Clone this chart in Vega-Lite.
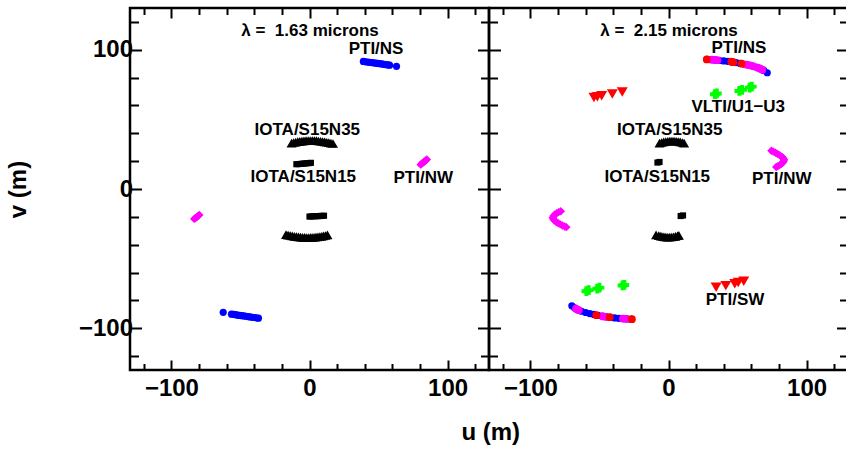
{
  "$schema": "https://vega.github.io/schema/vega-lite/v6.json",
  "padding": 5,
  "background": "white",
  "spacing": 0,
  "bounds": "flush",
  "config": {
    "view": {"stroke": "black", "strokeWidth": 2.5},
    "font": "Liberation Sans",
    "concat": {"spacing": 0}
  },
  "title": {"text": "u (m)", "orient": "bottom", "anchor": "middle", "dx": 63, "fontSize": 24, "fontWeight": "bold", "font": "Liberation Sans", "color": "black", "offset": 16},
  "datasets": {
    "pts": [
      {"p":"1.63","s":"NSb","u":39,"v":91.6},{"p":"1.63","s":"NSb","u":40.5,"v":91.4},{"p":"1.63","s":"NSb","u":42,"v":91.2},{"p":"1.63","s":"NSb","u":43.5,"v":91.0},{"p":"1.63","s":"NSb","u":45,"v":90.8},{"p":"1.63","s":"NSb","u":46.5,"v":90.6},{"p":"1.63","s":"NSb","u":48,"v":90.4},{"p":"1.63","s":"NSb","u":49.5,"v":90.2},{"p":"1.63","s":"NSb","u":51,"v":90.0},{"p":"1.63","s":"NSb","u":52.5,"v":89.8},{"p":"1.63","s":"NSb","u":54,"v":89.5},{"p":"1.63","s":"NSb","u":55.5,"v":89.3},{"p":"1.63","s":"NSb","u":57,"v":89.1},{"p":"1.63","s":"NSb","u":58,"v":88.9},{"p":"1.63","s":"NSb","u":63,"v":88.1},
      {"p":"1.63","s":"NSb","u":-62.5,"v":-88.6},{"p":"1.63","s":"NSb","u":-56.5,"v":-89.9},{"p":"1.63","s":"NSb","u":-55,"v":-90.1},{"p":"1.63","s":"NSb","u":-53.5,"v":-90.3},{"p":"1.63","s":"NSb","u":-52,"v":-90.6},{"p":"1.63","s":"NSb","u":-50.5,"v":-90.8},{"p":"1.63","s":"NSb","u":-49,"v":-91.0},{"p":"1.63","s":"NSb","u":-47.5,"v":-91.2},{"p":"1.63","s":"NSb","u":-46,"v":-91.4},{"p":"1.63","s":"NSb","u":-44.5,"v":-91.6},{"p":"1.63","s":"NSb","u":-43,"v":-91.9},{"p":"1.63","s":"NSb","u":-41.5,"v":-92.1},{"p":"1.63","s":"NSb","u":-40,"v":-92.3},{"p":"1.63","s":"NSb","u":-38.5,"v":-92.5},{"p":"1.63","s":"NSb","u":-37,"v":-92.8},
      {"p":"1.63","s":"NW","u":80.5,"v":17.5},{"p":"1.63","s":"NW","u":81.2,"v":18.1},{"p":"1.63","s":"NW","u":82,"v":18.8},{"p":"1.63","s":"NW","u":82.8,"v":19.4},{"p":"1.63","s":"NW","u":83.5,"v":20},{"p":"1.63","s":"NW","u":84.3,"v":20.6},{"p":"1.63","s":"NW","u":85,"v":21.2},
      {"p":"1.63","s":"NW","u":-83.5,"v":-21.5},{"p":"1.63","s":"NW","u":-82.8,"v":-21},{"p":"1.63","s":"NW","u":-82,"v":-20.4},{"p":"1.63","s":"NW","u":-81.2,"v":-19.8},{"p":"1.63","s":"NW","u":-80.5,"v":-19.2},{"p":"1.63","s":"NW","u":-79.8,"v":-18.6},
      {"p":"1.63","s":"N35","u":-13,"v":33.0},{"p":"1.63","s":"N35","u":-11.5,"v":33.4},{"p":"1.63","s":"N35","u":-10,"v":33.7},{"p":"1.63","s":"N35","u":-8.5,"v":34.0},{"p":"1.63","s":"N35","u":-7,"v":34.2},{"p":"1.63","s":"N35","u":-5.5,"v":34.4},{"p":"1.63","s":"N35","u":-4,"v":34.6},{"p":"1.63","s":"N35","u":-2.5,"v":34.7},{"p":"1.63","s":"N35","u":-1,"v":34.8},{"p":"1.63","s":"N35","u":0.5,"v":34.8},{"p":"1.63","s":"N35","u":2,"v":34.8},{"p":"1.63","s":"N35","u":3.5,"v":34.7},{"p":"1.63","s":"N35","u":5,"v":34.7},{"p":"1.63","s":"N35","u":6.5,"v":34.5},{"p":"1.63","s":"N35","u":8,"v":34.3},{"p":"1.63","s":"N35","u":9.5,"v":34.1},{"p":"1.63","s":"N35","u":11,"v":33.9},{"p":"1.63","s":"N35","u":12.5,"v":33.6},{"p":"1.63","s":"N35","u":14,"v":33.3},{"p":"1.63","s":"N35","u":15.5,"v":33.0},{"p":"1.63","s":"N35","u":17,"v":32.7},
      {"p":"1.63","s":"N35","u":-17,"v":-32.8},{"p":"1.63","s":"N35","u":-15.5,"v":-33.1},{"p":"1.63","s":"N35","u":-14,"v":-33.4},{"p":"1.63","s":"N35","u":-12.5,"v":-33.7},{"p":"1.63","s":"N35","u":-11,"v":-34.0},{"p":"1.63","s":"N35","u":-9.5,"v":-34.2},{"p":"1.63","s":"N35","u":-8,"v":-34.4},{"p":"1.63","s":"N35","u":-6.5,"v":-34.6},{"p":"1.63","s":"N35","u":-5,"v":-34.7},{"p":"1.63","s":"N35","u":-3.5,"v":-34.8},{"p":"1.63","s":"N35","u":-2,"v":-34.9},{"p":"1.63","s":"N35","u":-0.5,"v":-34.9},{"p":"1.63","s":"N35","u":1,"v":-34.8},{"p":"1.63","s":"N35","u":2.5,"v":-34.7},{"p":"1.63","s":"N35","u":4,"v":-34.6},{"p":"1.63","s":"N35","u":5.5,"v":-34.4},{"p":"1.63","s":"N35","u":7,"v":-34.2},{"p":"1.63","s":"N35","u":8.5,"v":-34.0},{"p":"1.63","s":"N35","u":10,"v":-33.7},{"p":"1.63","s":"N35","u":11.5,"v":-33.4},{"p":"1.63","s":"N35","u":13,"v":-33.0},
      {"p":"1.63","s":"N15","u":-9.5,"v":17.8},{"p":"1.63","s":"N15","u":-8,"v":17.9},{"p":"1.63","s":"N15","u":-6.5,"v":18.0},{"p":"1.63","s":"N15","u":-5,"v":18.2},{"p":"1.63","s":"N15","u":-3.5,"v":18.3},{"p":"1.63","s":"N15","u":-2,"v":18.5},{"p":"1.63","s":"N15","u":-0.5,"v":18.6},{"p":"1.63","s":"N15","u":1,"v":18.8},
      {"p":"1.63","s":"N15","u":0,"v":-19.8},{"p":"1.63","s":"N15","u":1.5,"v":-19.7},{"p":"1.63","s":"N15","u":3,"v":-19.6},{"p":"1.63","s":"N15","u":4.5,"v":-19.5},{"p":"1.63","s":"N15","u":6,"v":-19.5},{"p":"1.63","s":"N15","u":7.5,"v":-19.4},{"p":"1.63","s":"N15","u":9,"v":-19.3},{"p":"1.63","s":"N15","u":10.5,"v":-19.2},

      {"p":"2.15","s":"NSb","u":28,"v":93.1},{"p":"2.15","s":"NSb","u":31,"v":92.9},{"p":"2.15","s":"NSb","u":34,"v":92.6},{"p":"2.15","s":"NSb","u":37,"v":92.3},{"p":"2.15","s":"NSb","u":40,"v":92.0},{"p":"2.15","s":"NSb","u":43,"v":91.7},{"p":"2.15","s":"NSb","u":46,"v":91.3},{"p":"2.15","s":"NSb","u":49,"v":90.8},{"p":"2.15","s":"NSb","u":52,"v":90.2},{"p":"2.15","s":"NSb","u":55,"v":89.6},{"p":"2.15","s":"NSb","u":58,"v":89.0},{"p":"2.15","s":"NSb","u":61,"v":88.3},{"p":"2.15","s":"NSb","u":64,"v":87.4},{"p":"2.15","s":"NSb","u":67,"v":86.2},{"p":"2.15","s":"NSb","u":69,"v":85.2},{"p":"2.15","s":"NSb","u":71.5,"v":83.5},
      {"p":"2.15","s":"NSb","u":-70,"v":-83.9},{"p":"2.15","s":"NSb","u":-68,"v":-85.3},{"p":"2.15","s":"NSb","u":-66,"v":-86.6},{"p":"2.15","s":"NSb","u":-63,"v":-87.8},{"p":"2.15","s":"NSb","u":-60,"v":-88.7},{"p":"2.15","s":"NSb","u":-57,"v":-89.5},{"p":"2.15","s":"NSb","u":-54,"v":-90.1},{"p":"2.15","s":"NSb","u":-51,"v":-90.7},{"p":"2.15","s":"NSb","u":-48,"v":-91.3},{"p":"2.15","s":"NSb","u":-45,"v":-91.8},{"p":"2.15","s":"NSb","u":-42,"v":-92.2},{"p":"2.15","s":"NSb","u":-39,"v":-92.6},{"p":"2.15","s":"NSb","u":-36,"v":-92.9},{"p":"2.15","s":"NSb","u":-33,"v":-93.1},{"p":"2.15","s":"NSb","u":-30,"v":-93.3},{"p":"2.15","s":"NSb","u":-27,"v":-93.5},
      {"p":"2.15","s":"NSm","u":31.5,"v":92.9},{"p":"2.15","s":"NSm","u":33.5,"v":92.7},{"p":"2.15","s":"NSm","u":35.5,"v":92.5},{"p":"2.15","s":"NSm","u":56.5,"v":89.3},{"p":"2.15","s":"NSm","u":59,"v":88.8},{"p":"2.15","s":"NSm","u":61.5,"v":88.1},{"p":"2.15","s":"NSm","u":64.5,"v":87.2},{"p":"2.15","s":"NSm","u":66,"v":86.6},{"p":"2.15","s":"NSm","u":68,"v":85.7},
      {"p":"2.15","s":"NSm","u":-67,"v":-86},{"p":"2.15","s":"NSm","u":-65,"v":-87},{"p":"2.15","s":"NSm","u":-47.5,"v":-91.5},{"p":"2.15","s":"NSm","u":-45.5,"v":-91.8},{"p":"2.15","s":"NSm","u":-33,"v":-93.1},{"p":"2.15","s":"NSm","u":-31,"v":-93.2},
      {"p":"2.15","s":"NSr","u":27.7,"v":93.1},{"p":"2.15","s":"NSr","u":45.5,"v":91.4},{"p":"2.15","s":"NSr","u":47,"v":91.1},{"p":"2.15","s":"NSr","u":53,"v":90.0},
      {"p":"2.15","s":"NSr","u":-52.3,"v":-90.6},{"p":"2.15","s":"NSr","u":-42.6,"v":-92.1},{"p":"2.15","s":"NSr","u":-26.5,"v":-93.5},
      {"p":"2.15","s":"NW","u":74.5,"v":27.5},{"p":"2.15","s":"NW","u":76,"v":26.8},{"p":"2.15","s":"NW","u":77.5,"v":26},{"p":"2.15","s":"NW","u":79,"v":25.2},{"p":"2.15","s":"NW","u":80.5,"v":24.3},{"p":"2.15","s":"NW","u":82,"v":23.3},{"p":"2.15","s":"NW","u":83,"v":22.3},{"p":"2.15","s":"NW","u":83.7,"v":21.2},{"p":"2.15","s":"NW","u":83.5,"v":20.1},{"p":"2.15","s":"NW","u":82.8,"v":19},{"p":"2.15","s":"NW","u":81.8,"v":18},{"p":"2.15","s":"NW","u":80.5,"v":17.1},{"p":"2.15","s":"NW","u":79.2,"v":16.4},{"p":"2.15","s":"NW","u":78,"v":15.8},
      {"p":"2.15","s":"NW","u":-78,"v":-16},{"p":"2.15","s":"NW","u":-79.5,"v":-16.6},{"p":"2.15","s":"NW","u":-81,"v":-17.4},{"p":"2.15","s":"NW","u":-82.3,"v":-18.3},{"p":"2.15","s":"NW","u":-83.3,"v":-19.4},{"p":"2.15","s":"NW","u":-83.8,"v":-20.5},{"p":"2.15","s":"NW","u":-83.5,"v":-21.6},{"p":"2.15","s":"NW","u":-82.6,"v":-22.7},{"p":"2.15","s":"NW","u":-81.3,"v":-23.7},{"p":"2.15","s":"NW","u":-79.8,"v":-24.6},{"p":"2.15","s":"NW","u":-78.3,"v":-25.4},{"p":"2.15","s":"NW","u":-76.8,"v":-26.2},{"p":"2.15","s":"NW","u":-75.2,"v":-26.9},{"p":"2.15","s":"NW","u":-74,"v":-27.4},
      {"p":"2.15","s":"SW","u":-54,"v":65.8},{"p":"2.15","s":"SW","u":-51.5,"v":66.3},{"p":"2.15","s":"SW","u":-48.4,"v":67},{"p":"2.15","s":"SW","u":-40.7,"v":68.3},{"p":"2.15","s":"SW","u":-33.5,"v":69.6},
      {"p":"2.15","s":"SW","u":34.5,"v":-70.5},{"p":"2.15","s":"SW","u":41.5,"v":-69.4},{"p":"2.15","s":"SW","u":48,"v":-68},{"p":"2.15","s":"SW","u":50.5,"v":-67.2},{"p":"2.15","s":"SW","u":54.5,"v":-66.3},
      {"p":"2.15","s":"VL","u":33.6,"v":68.1},{"p":"2.15","s":"VL","u":35,"v":68.6},{"p":"2.15","s":"VL","u":51.3,"v":70.4},{"p":"2.15","s":"VL","u":53.3,"v":71.2},{"p":"2.15","s":"VL","u":58.8,"v":72.8},{"p":"2.15","s":"VL","u":60.3,"v":73.5},
      {"p":"2.15","s":"VL","u":-59.5,"v":-73.4},{"p":"2.15","s":"VL","u":-57.8,"v":-72.6},{"p":"2.15","s":"VL","u":-51.6,"v":-71.6},{"p":"2.15","s":"VL","u":-50,"v":-70.8},{"p":"2.15","s":"VL","u":-33.3,"v":-69.3},{"p":"2.15","s":"VL","u":-32,"v":-68.9},
      {"p":"2.15","s":"N35","u":-6.5,"v":33},{"p":"2.15","s":"N35","u":-5,"v":33.4},{"p":"2.15","s":"N35","u":-3.5,"v":33.8},{"p":"2.15","s":"N35","u":-2,"v":34.1},{"p":"2.15","s":"N35","u":-0.5,"v":34.3},{"p":"2.15","s":"N35","u":1,"v":34.5},{"p":"2.15","s":"N35","u":2.5,"v":34.5},{"p":"2.15","s":"N35","u":4,"v":34.5},{"p":"2.15","s":"N35","u":5.5,"v":34.3},{"p":"2.15","s":"N35","u":7,"v":34.1},{"p":"2.15","s":"N35","u":8.5,"v":33.8},{"p":"2.15","s":"N35","u":10,"v":33.4},{"p":"2.15","s":"N35","u":11.3,"v":33},
      {"p":"2.15","s":"N35","u":-9,"v":-33},{"p":"2.15","s":"N35","u":-7,"v":-33.5},{"p":"2.15","s":"N35","u":-5.5,"v":-33.9},{"p":"2.15","s":"N35","u":-4,"v":-34.2},{"p":"2.15","s":"N35","u":-2.5,"v":-34.4},{"p":"2.15","s":"N35","u":-1,"v":-34.6},{"p":"2.15","s":"N35","u":0.5,"v":-34.6},{"p":"2.15","s":"N35","u":2,"v":-34.5},{"p":"2.15","s":"N35","u":3.5,"v":-34.3},{"p":"2.15","s":"N35","u":5,"v":-34},{"p":"2.15","s":"N35","u":6.5,"v":-33.6},{"p":"2.15","s":"N35","u":7.5,"v":-33.3},
      {"p":"2.15","s":"N15","u":-8,"v":19},{"p":"2.15","s":"N15","u":-6.5,"v":19.4},
      {"p":"2.15","s":"N15","u":8.8,"v":-19.4},{"p":"2.15","s":"N15","u":10.5,"v":-19}
    ],
    "lab": [
      {"p":"1.63","t":"λ = \u00a01.63 microns","u":0.4,"v":113.2},
      {"p":"1.63","t":"PTI/NS","u":48.2,"v":100.7},
      {"p":"1.63","t":"IOTA/S15N35","u":-1.6,"v":42.7},
      {"p":"1.63","t":"IOTA/S15N15","u":-4.5,"v":8.4},
      {"p":"1.63","t":"PTI/NW","u":82.4,"v":7.7},
      {"p":"2.15","t":"λ = \u00a02.15 microns","u":0.4,"v":113.2},
      {"p":"2.15","t":"PTI/NS","u":51,"v":101.4},
      {"p":"2.15","t":"VLTI/U1−U3","u":50.5,"v":58.8},
      {"p":"2.15","t":"IOTA/S15N35","u":0.9,"v":42.7},
      {"p":"2.15","t":"IOTA/S15N15","u":-8.1,"v":8.4},
      {"p":"2.15","t":"PTI/NW","u":82,"v":7.2},
      {"p":"2.15","t":"PTI/SW","u":48.2,"v":-79.6}
    ]
  },
  "hconcat": [
    {
      "width": 359, "height": 362,
      "layer": [
        {
          "data": {"name": "pts"},
          "transform": [{"filter": "datum.p === '1.63'"}],
          "mark": {"type": "point", "filled": true, "opacity": 1},
          "encoding": {
            "x": {"field": "u", "type": "quantitative", "scale": {"domain": [-130, 130], "nice": false, "zero": false},
              "axis": {"orient": "bottom", "values": [-120,-100,-80,-60,-40,-20,0,20,40,60,80,100,120], "labelExpr": "datum.value % 100 === 0 ? datum.label : ''", "tickSize": {"condition": {"test": "datum.value % 100 === 0", "value": -10}, "value": -6.5}, "tickWidth": 2, "tickColor": "black", "domain": false, "grid": false, "title": null, "labelFont": "Liberation Sans", "labelFontSize": 24, "labelFontWeight": "bold", "labelColor": "black", "labelPadding": 16, "labelFlush": false, "labelOverlap": false}},
            "y": {"field": "v", "type": "quantitative", "scale": {"domain": [-130, 130], "nice": false, "zero": false},
              "axis": {"orient": "left", "values": [-120,-100,-80,-60,-40,-20,0,20,40,60,80,100,120], "labelExpr": "datum.value % 100 === 0 ? datum.label : ''", "tickSize": {"condition": {"test": "datum.value % 100 === 0", "value": -11.5}, "value": -8.5}, "tickWidth": 2, "tickColor": "black", "domain": false, "grid": false, "title": "v (m)", "titleFont": "Liberation Sans", "titleFontSize": 24, "titleFontWeight": "bold", "titleColor": "black", "titlePadding": 48, "labelFont": "Liberation Sans", "labelFontSize": 24, "labelFontWeight": "bold", "labelColor": "black", "labelPadding": 9, "labelFlush": false, "labelOverlap": false}},
            "color": {"field": "s", "type": "nominal", "legend": null, "scale": {"domain": ["NSb","NSm","NSr","NW","SW","VL","N35","N15"], "range": ["#0000ff","#ff00ff","#ff0000","#ff00ff","#ff0000","#00ff00","#000000","#000000"]}},
            "shape": {"field": "s", "type": "nominal", "legend": null, "scale": {"domain": ["NSb","NSm","NSr","NW","SW","VL","N35","N15"], "range": ["circle","circle","circle","diamond","triangle-down","cross","triangle-up","square"]}},
            "size": {"field": "s", "type": "nominal", "legend": null, "scale": {"type": "ordinal", "domain": ["NSb","NSm","NSr","NW","SW","VL","N35","N15"], "range": [52,60,60,70,120,95,100,38]}}
          }
        },
        {
          "data": {"name": "lab"},
          "transform": [{"filter": "datum.p === '1.63'"}],
          "mark": {"type": "text", "font": "Liberation Sans", "fontSize": 17, "fontWeight": "bold", "color": "black", "align": "center", "baseline": "middle"},
          "encoding": {
            "x": {"field": "u", "type": "quantitative", "scale": {"domain": [-130, 130], "nice": false, "zero": false},
              "axis": {"orient": "top", "values": [-120,-100,-80,-60,-40,-20,0,20,40,60,80,100,120], "labels": false, "tickSize": {"condition": {"test": "datum.value % 100 === 0", "value": -10}, "value": -6.5}, "tickWidth": 2, "tickColor": "black", "domain": false, "grid": false, "title": null}},
            "y": {"field": "v", "type": "quantitative", "scale": {"domain": [-130, 130], "nice": false, "zero": false},
              "axis": {"orient": "right", "values": [-120,-100,-80,-60,-40,-20,0,20,40,60,80,100,120], "labels": false, "tickSize": {"condition": {"test": "datum.value % 100 === 0", "value": -11.5}, "value": -8.5}, "tickWidth": 2, "tickColor": "black", "domain": false, "grid": false, "title": null}},
            "text": {"field": "t", "type": "nominal"}
          }
        }
      ],
      "resolve": {"axis": {"x": "independent", "y": "independent"}}
    },
    {
      "width": 359, "height": 362,
      "layer": [
        {
          "data": {"name": "pts"},
          "transform": [{"filter": "datum.p === '2.15'"}],
          "mark": {"type": "point", "filled": true, "opacity": 1},
          "encoding": {
            "x": {"field": "u", "type": "quantitative", "scale": {"domain": [-130, 130], "nice": false, "zero": false},
              "axis": {"orient": "bottom", "values": [-120,-100,-80,-60,-40,-20,0,20,40,60,80,100,120], "labelExpr": "datum.value % 100 === 0 ? datum.label : ''", "tickSize": {"condition": {"test": "datum.value % 100 === 0", "value": -10}, "value": -6.5}, "tickWidth": 2, "tickColor": "black", "domain": false, "grid": false, "title": null, "labelFont": "Liberation Sans", "labelFontSize": 24, "labelFontWeight": "bold", "labelColor": "black", "labelPadding": 16, "labelFlush": false, "labelOverlap": false}},
            "y": {"field": "v", "type": "quantitative", "scale": {"domain": [-130, 130], "nice": false, "zero": false},
              "axis": {"orient": "left", "values": [-120,-100,-80,-60,-40,-20,0,20,40,60,80,100,120], "labels": false, "tickSize": {"condition": {"test": "datum.value % 100 === 0", "value": -11.5}, "value": -8.5}, "tickWidth": 2, "tickColor": "black", "domain": false, "grid": false, "title": null}},
            "color": {"field": "s", "type": "nominal", "legend": null, "scale": {"domain": ["NSb","NSm","NSr","NW","SW","VL","N35","N15"], "range": ["#0000ff","#ff00ff","#ff0000","#ff00ff","#ff0000","#00ff00","#000000","#000000"]}},
            "shape": {"field": "s", "type": "nominal", "legend": null, "scale": {"domain": ["NSb","NSm","NSr","NW","SW","VL","N35","N15"], "range": ["circle","circle","circle","diamond","triangle-down","cross","triangle-up","square"]}},
            "size": {"field": "s", "type": "nominal", "legend": null, "scale": {"type": "ordinal", "domain": ["NSb","NSm","NSr","NW","SW","VL","N35","N15"], "range": [62,62,62,70,120,95,100,38]}}
          }
        },
        {
          "data": {"name": "lab"},
          "transform": [{"filter": "datum.p === '2.15'"}],
          "mark": {"type": "text", "font": "Liberation Sans", "fontSize": 17, "fontWeight": "bold", "color": "black", "align": "center", "baseline": "middle"},
          "encoding": {
            "x": {"field": "u", "type": "quantitative", "scale": {"domain": [-130, 130], "nice": false, "zero": false},
              "axis": {"orient": "top", "values": [-120,-100,-80,-60,-40,-20,0,20,40,60,80,100,120], "labels": false, "tickSize": {"condition": {"test": "datum.value % 100 === 0", "value": -10}, "value": -6.5}, "tickWidth": 2, "tickColor": "black", "domain": false, "grid": false, "title": null}},
            "y": {"field": "v", "type": "quantitative", "scale": {"domain": [-130, 130], "nice": false, "zero": false},
              "axis": {"orient": "right", "values": [-120,-100,-80,-60,-40,-20,0,20,40,60,80,100,120], "labels": false, "tickSize": {"condition": {"test": "datum.value % 100 === 0", "value": -11.5}, "value": -8.5}, "tickWidth": 2, "tickColor": "black", "domain": false, "grid": false, "title": null}},
            "text": {"field": "t", "type": "nominal"}
          }
        }
      ],
      "resolve": {"axis": {"x": "independent", "y": "independent"}}
    }
  ]
}
